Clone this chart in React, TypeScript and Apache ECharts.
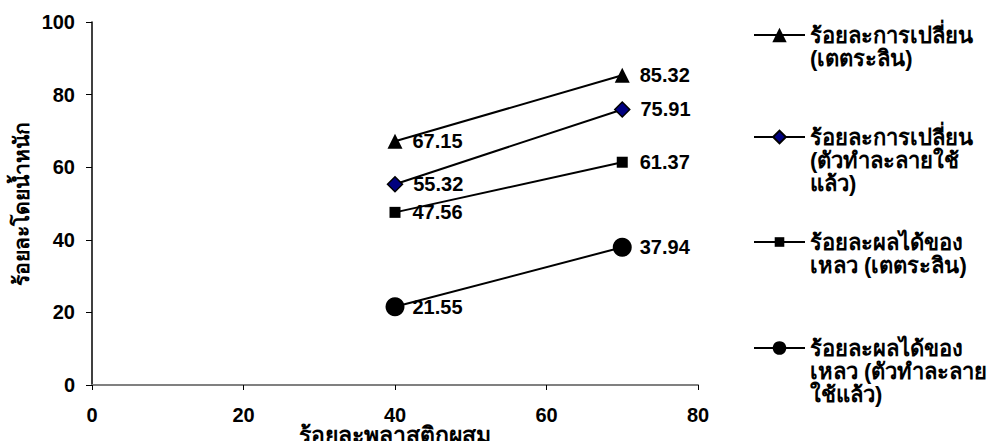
import React, { useEffect, useRef } from "react";
import * as echarts from "echarts";

const plasticPercent = [40, 70];
const conversionTetralin = [67.15, 85.32];
const conversionUsedCatalyst = [55.32, 75.91];
const liquidYieldTetralin = [47.56, 61.37];
const liquidYieldUsedCatalyst = [21.55, 37.94];

const seriesNames = [
  "ร้อยละการเปลี่ยน (เตตระลิน)",
  "ร้อยละการเปลี่ยน (ตัวทำละลายใช้แล้ว)",
  "ร้อยละผลได้ของเหลว (เตตระลิน)",
  "ร้อยละผลได้ของเหลว (ตัวทำละลายใช้แล้ว)",
];
const legendLines = [
  ["ร้อยละการเปลี่ยน", "(เตตระลิน)"],
  ["ร้อยละการเปลี่ยน", "(ตัวทำละลายใช้", "แล้ว)"],
  ["ร้อยละผลได้ของ", "เหลว (เตตระลิน)"],
  ["ร้อยละผลได้ของ", "เหลว (ตัวทำละลาย", "ใช้แล้ว)"],
];
const xAxisTitle = "ร้อยละพลาสติกผสม";
const yAxisTitle = "ร้อยละโดยน้ำหนัก";

const FONT = 'Arial, "Liberation Sans", "Noto Sans", sans-serif';

export default function App() {
  const ref = useRef<HTMLDivElement>(null);

  useEffect(() => {
    if (!ref.current) return;
    const chart = echarts.init(ref.current, null, { renderer: "svg" });

    const pairs = (ys: number[]) => plasticPercent.map((x, i) => [x, ys[i]]);

    const labelStyle = (distance: number) => ({
      show: true,
      position: "right" as const,
      distance,
      color: "#000",
      fontFamily: FONT,
      fontWeight: "bold" as const,
      fontSize: 20,
      formatter: (p: any) => p.value[1].toFixed(2),
    });

    const markers = [
      { symbol: "triangle", size: 15, legendH: 18, lineY: 35, dist: 10, fill: "#000" },
      { symbol: "diamond", size: 15, legendH: 16, lineY: 137, dist: 10, fill: "#000080" },
      { symbol: "rect", size: 11, legendH: 12, lineY: 242, dist: 12, fill: "#000" },
      { symbol: "circle", size: 19, legendH: 17, lineY: 348, dist: 8, fill: "#000" },
    ];
    const dataSets = [
      conversionTetralin,
      conversionUsedCatalyst,
      liquidYieldTetralin,
      liquidYieldUsedCatalyst,
    ];

    const series = dataSets.map((ys, i) => ({
      name: seriesNames[i],
      type: "line",
      data: pairs(ys),
      symbol: markers[i].symbol,
      symbolSize: markers[i].size,
      lineStyle: { color: "#000", width: 2 },
      itemStyle: {
        color: markers[i].fill,
        borderColor: "#000",
        borderWidth: i === 1 ? 1.5 : 0,
      },
      label: labelStyle(markers[i].dist),
    }));

    // Legend text is centred on its icon, so blank lines are put in front of
    // each wrapped name to keep the icon level with the first line.
    const LH = 23;
    const legends = seriesNames.map((name, i) => {
      const n = legendLines[i].length;
      const padLines = Array.from({ length: n - 1 }, () => " ");
      return {
        data: [name],
        left: 753,
        top: markers[i].lineY - ((2 * n - 1) * LH) / 2,
        padding: 0,
        itemWidth: 51,
        itemHeight: markers[i].legendH,
        selectedMode: false,
        formatter: () => [...padLines, ...legendLines[i]].join("\n"),
        textStyle: {
          color: "#000",
          fontFamily: FONT,
          fontWeight: "bold" as const,
          fontSize: 22,
          lineHeight: LH,
        },
      };
    });

    chart.setOption({
      animation: false,
      backgroundColor: "#fff",
      grid: { left: 92, right: 290, top: 22, bottom: 56, outerBoundsMode: "none" },
      legend: legends,
      xAxis: {
        type: "value",
        min: 0,
        max: 80,
        interval: 20,
        name: xAxisTitle,
        nameLocation: "middle",
        nameGap: 38,
        nameMoveOverlap: false,
        nameTextStyle: {
          color: "#000",
          fontFamily: FONT,
          fontWeight: "bold",
          fontSize: 23,
          lineHeight: 24,
        },
        axisLine: { show: true, lineStyle: { color: "#808080", width: 2 } },
        axisTick: { show: true, length: 5, lineStyle: { color: "#000", width: 1 } },
        axisLabel: { color: "#000", fontFamily: FONT, fontWeight: "bold", fontSize: 20, margin: 20 },
        splitLine: { show: false },
      },
      yAxis: {
        type: "value",
        min: 0,
        max: 100,
        interval: 20,
        name: yAxisTitle,
        nameLocation: "middle",
        nameGap: 60,
        nameMoveOverlap: false,
        nameTextStyle: { color: "#000", fontFamily: FONT, fontWeight: "bold", fontSize: 21 },
        axisLine: { show: true, lineStyle: { color: "#000", width: 1.5 } },
        axisTick: { show: true, length: 6, lineStyle: { color: "#000", width: 1 } },
        axisLabel: { color: "#000", fontFamily: FONT, fontWeight: "bold", fontSize: 20, margin: 17 },
        splitLine: { show: false },
      },
      series,
    });

    return () => chart.dispose();
  }, []);

  return (
    <div
      ref={ref}
      style={{ position: "fixed", left: 0, top: 0, width: 988, height: 441 }}
    />
  );
}
